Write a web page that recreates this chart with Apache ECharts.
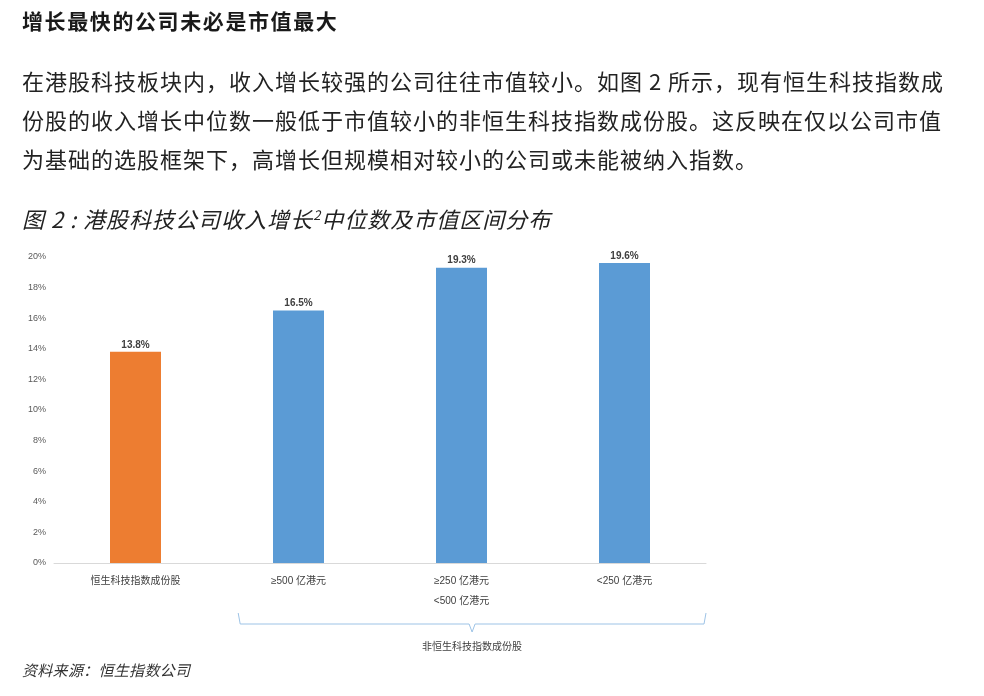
<!DOCTYPE html>
<html><head><meta charset="utf-8">
<script src="https://cdn.jsdelivr.net/npm/echarts@6/dist/echarts.min.js"></script>
<style>
html,body{margin:0;padding:0;background:#fff;width:984px;height:696px;overflow:hidden;font-family:"Noto Sans CJK SC","Noto Sans",sans-serif;color:#1a1a1a}
#chart{position:absolute;left:0;top:0;width:984px;height:696px}
.t{position:absolute;left:22px;white-space:nowrap}
#h{top:5px;font-size:21px;font-weight:bold;letter-spacing:1.6px;line-height:30px}
.p{font-size:22px;letter-spacing:1.0px;line-height:30px;color:#222}
#ct{top:199px;font-size:22px;font-style:italic;letter-spacing:1px;line-height:32px;color:#222}
#src{top:659px;font-size:15px;font-style:italic;letter-spacing:0.3px;line-height:22px;color:#333}
</style></head>
<body>
<div id="chart"></div>
<div class="t" id="h">增长最快的公司未必是市值最大</div>
<div class="t p" style="top:65px">在港股科技板块内，收入增长较强的公司往往市值较小。如图 2 所示，现有恒生科技指数成</div>
<div class="t p" style="top:104px">份股的收入增长中位数一般低于市值较小的非恒生科技指数成份股。这反映在仅以公司市值</div>
<div class="t p" style="top:143px">为基础的选股框架下，高增长但规模相对较小的公司或未能被纳入指数。</div>
<div class="t" id="ct">图 2 : 港股科技公司收入增长<sup style="font-size:13px">2</sup>中位数及市值区间分布</div>
<div class="t" id="src">资料来源：恒生指数公司</div>
<script>
const categories = ['恒生科技指数成份股', '≥500 亿港元', '≥250 亿港元\n<500 亿港元', '<250 亿港元'];
const values = [13.8, 16.5, 19.3, 19.6];
const barColors = ['#ED7D31', '#5B9BD5', '#5B9BD5', '#5B9BD5'];
const groupLabel = '非恒生科技指数成份股';

const chart = echarts.init(document.getElementById('chart'), null, {renderer: 'canvas'});
chart.setOption({
  animation: false,
  grid: {left: 54, width: 652, top: 257, height: 306, containLabel: false},
  xAxis: {
    type: 'category', data: categories,
    axisLine: {lineStyle: {color: '#D9D9D9', width: 1}},
    axisTick: {show: false},
    axisLabel: {color: '#404040', fontSize: 10, margin: 8, lineHeight: 20, interval: 0,
      fontFamily: '"Liberation Sans", "Noto Sans CJK SC", sans-serif'}
  },
  yAxis: {
    type: 'value', min: 0, max: 20, interval: 2,
    axisLine: {show: false}, axisTick: {show: false}, splitLine: {show: false},
    axisLabel: {formatter: '{value}%', color: '#595959', fontSize: 9, margin: 8,
      fontFamily: '"Liberation Sans", Arial, sans-serif'}
  },
  series: [{
    type: 'bar', barWidth: 51,
    data: values.map((v, i) => ({value: v, itemStyle: {color: barColors[i]}})),
    label: {show: true, position: 'top', distance: 2, formatter: p => p.value.toFixed(1) + '%',
      color: '#404040', fontSize: 10, fontWeight: 'bold', fontFamily: '"Liberation Sans", Arial, sans-serif'}
  }]
});

// bracket under non-index categories
const c1 = chart.convertToPixel({xAxisIndex: 0}, categories[1]);
const c3 = chart.convertToPixel({xAxisIndex: 0}, categories[3]);
const band = c3 - chart.convertToPixel({xAxisIndex: 0}, categories[2]);
const x0 = c1 - band * 0.37, x1 = c3 + band * 0.5;
const xm = (x0 + x1) / 2;
const yTop = 613, yMid = 624, yTip = 632;
chart.setOption({
  graphic: [
    {type: 'polyline', shape: {points: [[x0, yTop], [x0 + 2, yMid], [xm - 3, yMid], [xm, yTip], [xm + 3, yMid], [x1 - 2, yMid], [x1, yTop]]},
     style: {stroke: '#9DC3E6', lineWidth: 1, fill: null}},
    {type: 'text', x: xm, y: 646, style: {text: groupLabel, fill: '#404040', fontSize: 10,
      textAlign: 'center', textVerticalAlign: 'middle', fontFamily: '"Noto Sans CJK SC", sans-serif'}}
  ]
});
</script>
</body></html>
